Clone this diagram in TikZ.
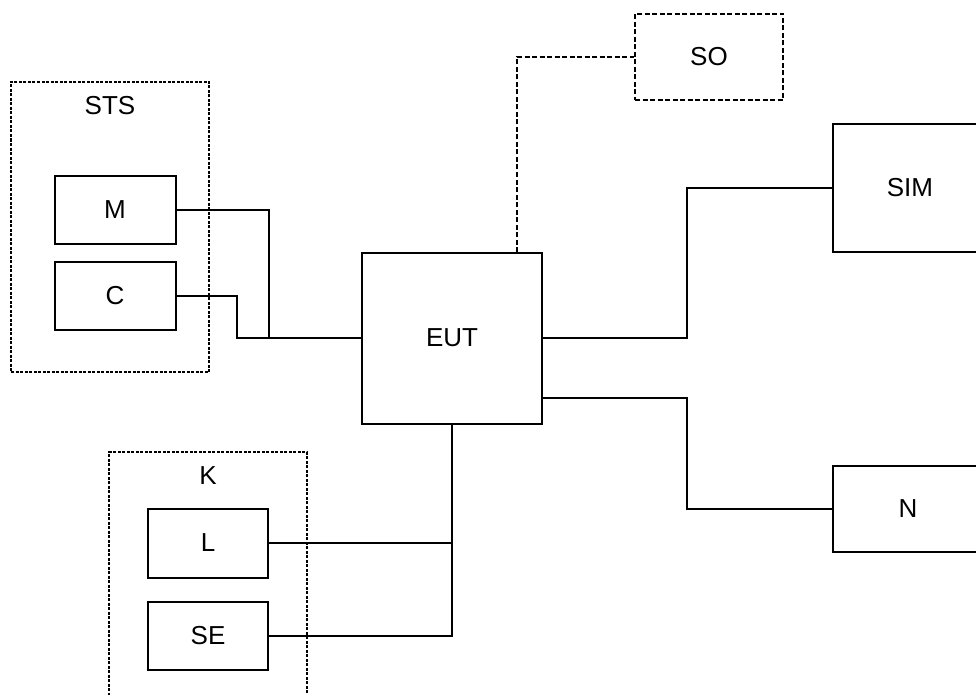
\documentclass[tikz,border=0pt]{standalone}
\usepackage{fontspec}
\setmainfont{Liberation Sans}
\begin{document}
\begin{tikzpicture}[x=1pt,y=-1pt,
  box/.style={draw,line width=2pt,inner sep=0pt,font=\fontsize{26}{30}\selectfont},
  group/.style={draw,line width=1.1pt,dash pattern=on 3pt off 1.5pt,inner sep=0pt},
  dbox/.style={draw,line width=1.7pt,dash pattern=on 5pt off 2.5pt,inner sep=0pt,font=\fontsize{26}{30}\selectfont},
  wire/.style={line width=1.6pt},
  dwire/.style={line width=1.7pt,dash pattern=on 5pt off 2.5pt},
  lbl/.style={inner sep=0pt,font=\fontsize{26}{30}\selectfont}]
\useasboundingbox (0,0) rectangle (976,695);
\clip (0,0) rectangle (976,695);
% groups
\node[group,minimum width=198pt,minimum height=290pt] (STS) at (110,227) {};
\node[lbl] (STSl) at (110,106) {STS};
\node[group,minimum width=198pt,minimum height=268pt] (K) at (208,586) {};
\node[lbl] (Kl) at (208,476) {K};
% boxes
\node[box,minimum width=121pt,minimum height=67pt] (M) at (115,210) {M};
\node[box,minimum width=121pt,minimum height=68pt] (C) at (115,296) {C};
\node[box,minimum width=180pt,minimum height=171pt] (EUT) at (452,338) {EUT};
\node[dbox,minimum width=148pt,minimum height=86pt] (SO) at (709,57) {SO};
\node[box,minimum width=154pt,minimum height=128pt] (SIM) at (910,188) {SIM};
\node[box,minimum width=150pt,minimum height=86pt] (N) at (908,509) {N};
\node[box,minimum width=120pt,minimum height=69pt] (L) at (208,543) {L};
\node[box,minimum width=120pt,minimum height=68pt] (SE) at (208,636) {SE};
% junction coordinates
\coordinate (j1) at (269,338);
\coordinate (j2) at (237,338);
\coordinate (so0) at (517,252);
\coordinate (s1) at (687,338);
\coordinate (n0) at (542,398);
\coordinate (n1) at (687,398);
% connectors
\draw[wire] (M.east) -| (j1) -- (EUT.west);
\draw[wire] (C.east) -| (j2) -- (j1);
\draw[dwire] (so0) |- (SO.west);
\draw[wire] (EUT.east) -- (s1) |- (SIM.west);
\draw[wire] (n0) -- (n1) |- (N.west);
\draw[wire] (EUT.south) |- (SE.east);
\draw[wire] (L.east) -- (L.east -| EUT.south);
\end{tikzpicture}
\end{document}
